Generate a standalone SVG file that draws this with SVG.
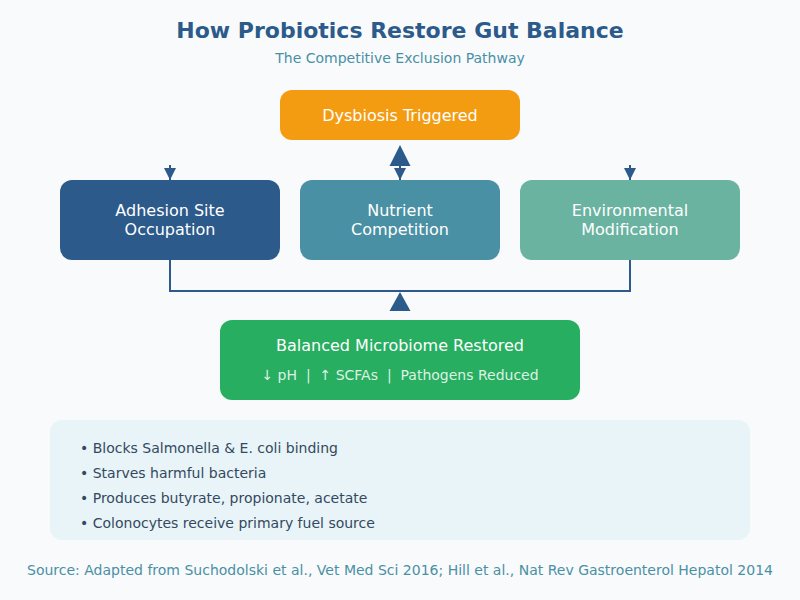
<svg xmlns="http://www.w3.org/2000/svg" width="800" height="600" viewBox="0 0 800 600">
<defs>
<style>
text{font-family:"DejaVu Sans","Noto Sans",sans-serif;}
.title{font-size:22px;font-weight:bold;fill:#2c5a8a;text-anchor:middle;}
.sub{font-size:14px;fill:#4a90a4;text-anchor:middle;}
.lbl{font-size:16px;fill:#ffffff;text-anchor:middle;}
.small{font-size:14px;fill:#ffffff;fill-opacity:0.85;text-anchor:middle;white-space:pre;}
.note{font-size:14px;fill:#34495e;}
.foot{font-size:14px;fill:#4a90a4;text-anchor:middle;}
.conn{stroke:#2c5a8a;stroke-width:2;fill:none;}
</style>
<marker id="sm" viewBox="0 0 10 10" refX="10" refY="5" markerWidth="6" markerHeight="6" markerUnits="strokeWidth" orient="auto"><path d="M0,0 L10,5 L0,10 z" fill="#2c5a8a"/></marker>
</defs>
<rect x="0" y="0" width="800" height="600" fill="#f8fafc"/>
<text class="title" x="400" y="38">How Probiotics Restore Gut Balance</text>
<text class="sub" x="400" y="63">The Competitive Exclusion Pathway</text>

<g id="connectors">
<line class="conn" x1="170" y1="165" x2="170" y2="180" marker-end="url(#sm)"/>
<line class="conn" x1="400" y1="160" x2="400" y2="180" marker-end="url(#sm)"/>
<line class="conn" x1="630" y1="165" x2="630" y2="180" marker-end="url(#sm)"/>
<polygon points="400,145 410.5,166 389.5,166" fill="#2c5a8a"/>
<polyline class="conn" points="170,260 170,291 630,291 630,260"/>
<polygon points="400,292 410.5,311 389.5,311" fill="#2c5a8a"/>
</g>

<g id="dysbiosis">
<rect x="280" y="90" width="240" height="50" rx="12" fill="#f39c12"/>
<text class="lbl" x="400" y="121">Dysbiosis Triggered</text>
</g>
<g id="adhesion">
<rect x="60" y="180" width="220" height="80" rx="12" fill="#2c5a8a"/>
<text class="lbl" x="170" y="216">Adhesion Site</text>
<text class="lbl" x="170" y="235">Occupation</text>
</g>
<g id="nutrient">
<rect x="300" y="180" width="200" height="80" rx="12" fill="#4a90a4"/>
<text class="lbl" x="400" y="216">Nutrient</text>
<text class="lbl" x="400" y="235">Competition</text>
</g>
<g id="environmental">
<rect x="520" y="180" width="220" height="80" rx="12" fill="#6ab3a0"/>
<text class="lbl" x="630" y="216">Environmental</text>
<text class="lbl" x="630" y="235">Modification</text>
</g>
<g id="balanced">
<rect x="220" y="320" width="360" height="80" rx="12" fill="#27ae60"/>
<text class="lbl" x="400" y="351">Balanced Microbiome Restored</text>
<text class="small" x="400" y="380" xml:space="preserve">↓ pH  |  ↑ SCFAs  |  Pathogens Reduced</text>
</g>
<g id="notes">
<rect x="50" y="420" width="700" height="120" rx="12" fill="#e8f4f8"/>
<text class="note" x="80" y="453">• Blocks Salmonella &amp; E. coli binding</text>
<text class="note" x="80" y="478">• Starves harmful bacteria</text>
<text class="note" x="80" y="503">• Produces butyrate, propionate, acetate</text>
<text class="note" x="80" y="528">• Colonocytes receive primary fuel source</text>
</g>
<text class="foot" x="400" y="575" textLength="746" lengthAdjust="spacingAndGlyphs">Source: Adapted from Suchodolski et al., Vet Med Sci 2016; Hill et al., Nat Rev Gastroenterol Hepatol 2014</text>
</svg>
